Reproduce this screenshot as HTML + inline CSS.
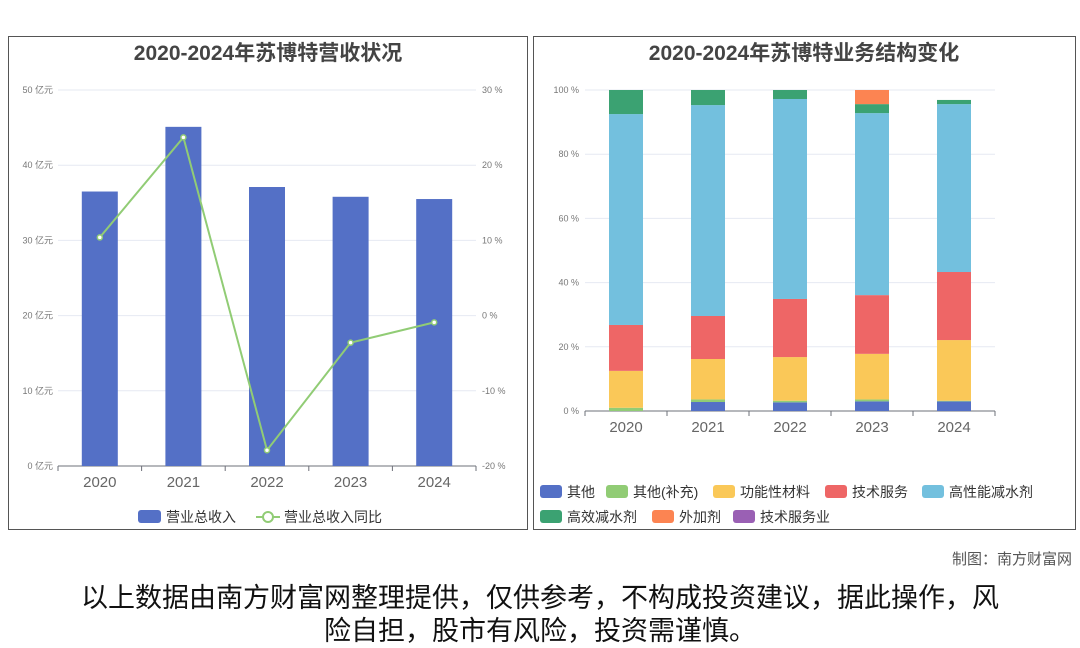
<!DOCTYPE html>
<html><head><meta charset="utf-8"><style>
body{margin:0;width:1080px;height:646px;background:#fff;overflow:hidden;font-family:"Liberation Sans","Noto Sans CJK SC",sans-serif;}
svg text{font-family:"Liberation Sans","Noto Sans CJK SC",sans-serif;}
.foot{position:absolute;left:0;width:1080px;text-align:center;font-family:"Noto Sans CJK SC",sans-serif;color:#111;font-size:27px;}
</style></head><body>
<svg id="svg" width="1080" height="560" style="position:absolute;left:0;top:0">
<rect x="8.5" y="36.5" width="519" height="493" fill="none" stroke="#555"/>
<rect x="533.5" y="36.5" width="542" height="493" fill="none" stroke="#555"/>
<text x="268" y="60" text-anchor="middle" font-size="21" font-weight="bold" fill="#444">2020-2024年苏博特营收状况</text>
<text x="804" y="60" text-anchor="middle" font-size="21" font-weight="bold" fill="#444">2020-2024年苏博特业务结构变化</text>
<g id="left"></g><g id="right"></g>
</svg>
<div class="foot" style="top:548px;text-align:right;width:1072px;font-size:15px;color:#555">制图：南方财富网</div>
<div class="foot" style="top:579px;line-height:33px">以上数据由南方财富网整理提供，仅供参考，不构成投资建议，据此操作，风<br>险自担，股市有风险，投资需谨慎。</div>
<script>
const years=['2020','2021','2022','2023','2024'];
const revenue=[36.5,45.1,37.1,35.8,35.5];
const yoy=[10.4,23.7,-17.9,-3.6,-0.9];
const leftTicks=[0,10,20,30,40,50];
const rightTicks=[-20,-10,0,10,20,30];
const segNames=['其他','其他(补充)','功能性材料','技术服务','高性能减水剂','高效减水剂','外加剂','技术服务业'];
const segColors=['#5470c6','#91cc75','#fac858','#ee6666','#73c0de','#3ba272','#fc8452','#9a60b4'];
const sOther=[0,2.8,2.7,3,3];
const sOtherSup=[1,0.8,0.5,0.6,0.2];
const sFunc=[11.5,12.6,13.6,14.2,18.9];
const sTech=[14.3,13.4,18.1,18.3,21.2];
const sHigh=[65.7,65.7,62.3,56.7,52.3];
const sEff=[7.5,4.7,2.8,2.8,1.3];
const sAdd=[0,0,0,4.4,0];
const sTechInd=[0,0,0,0,0];
const pctTicks=[0,20,40,60,80,100];
const NS='http://www.w3.org/2000/svg';
function mk(p,t,a){const e=document.createElementNS(NS,t);for(const k in a)e.setAttribute(k,a[k]);p.appendChild(e);return e;}
// left chart
const L=document.getElementById('left');
const lx0=58,lx1=476,ly0=466,ly1=90;
const lbw=(lx1-lx0)/years.length;
const ly=v=>ly0-(v/50)*(ly0-ly1);
const ry=v=>ly0-((v+20)/50)*(ly0-ly1);
const lxc=i=>lx0+lbw*(i+0.5);
leftTicks.forEach((t,i)=>{
 const g=mk(L,'line',{x1:lx0,x2:lx1,y1:ly(t),y2:ly(t),stroke:t===0?'#6e7079':'#e6e9f2'});
 
 
 const tx=mk(L,'text',{x:53,y:ly(t)+3,'text-anchor':'end','font-size':9,fill:'#777'});tx.textContent=t+' 亿元';
 
 
});
rightTicks.forEach(t=>{
 const tx=mk(L,'text',{x:482,y:ry(t)+3,'font-size':9,fill:'#777'});tx.textContent=t+' %';
 
 
});
revenue.forEach((v,i)=>{
 const r=mk(L,'rect',{x:lxc(i)-18,y:ly(v),width:36,height:ly0-ly(v),fill:'#5470c6'});
 
 
});
for(let i=0;i<=years.length;i++){mk(L,'line',{x1:lx0+lbw*i,x2:lx0+lbw*i,y1:ly0,y2:ly0+5,stroke:'#6e7079'});}
years.forEach((y,i)=>{const t=mk(L,'text',{x:lxc(i),y:487,'text-anchor':'middle','font-size':15,fill:'#666'});t.textContent=y;
 
 });
const pl=mk(L,'polyline',{points:yoy.map((v,i)=>lxc(i)+','+ry(v)).join(' '),fill:'none',stroke:'#91cc75','stroke-width':2});


yoy.forEach((v,i)=>{const c=mk(L,'circle',{cx:lxc(i),cy:ry(v),r:2.5,fill:'#fff',stroke:'#91cc75','stroke-width':1.5});
 
 });
// left legend
let lg=mk(L,'rect',{x:138,y:510,width:23,height:13,rx:3,fill:'#5470c6'});


let lt=mk(L,'text',{x:166,y:522,'font-size':14,fill:'#333'});lt.textContent='营业总收入';
mk(L,'line',{x1:256,x2:280,y1:517,y2:517,stroke:'#91cc75','stroke-width':2});
lg=mk(L,'circle',{cx:268,cy:517,r:5,fill:'#fff',stroke:'#91cc75','stroke-width':2});


lt=mk(L,'text',{x:284,y:522,'font-size':14,fill:'#333'});lt.textContent='营业总收入同比';
// right chart
const R=document.getElementById('right');
const rx0=585,rx1=995,py0=411,py1=90;
const rbw=(rx1-rx0)/years.length;
const py=v=>py0-(v/100)*(py0-py1);
const rxc=i=>rx0+rbw*(i+0.5);
pctTicks.forEach(t=>{
 const g=mk(R,'line',{x1:rx0,x2:rx1,y1:py(t),y2:py(t),stroke:t===0?'#6e7079':'#e6e9f2'});
 
 
 const tx=mk(R,'text',{x:579,y:py(t)+3,'text-anchor':'end','font-size':9,fill:'#777'});tx.textContent=t+' %';
 
 
});
const series=[sOther,sOtherSup,sFunc,sTech,sHigh,sEff,sAdd,sTechInd];
years.forEach((y,i)=>{
 let acc=0;
 series.forEach((s,k)=>{
  const v=s[i];if(!v)return;
  const r=mk(R,'rect',{x:rxc(i)-17,y:py(acc+v),width:34,height:py(acc)-py(acc+v),fill:segColors[k]});
  
  
  acc+=v;
 });
});
for(let i=0;i<=years.length;i++){mk(R,'line',{x1:rx0+rbw*i,x2:rx0+rbw*i,y1:py0,y2:py0+5,stroke:'#6e7079'});}
years.forEach((y,i)=>{const t=mk(R,'text',{x:rxc(i),y:432,'text-anchor':'middle','font-size':15,fill:'#666'});t.textContent=y;
 
 });
// right legend
const legPos=[[540,492],[606,492],[713,492],[825,492],[922,492],[540,517],[652,517],[733,517]];
segNames.forEach((n,k)=>{
 const [x,y]=legPos[k];
 const r=mk(R,'rect',{x:x,y:y-7,width:22,height:13,rx:3,fill:segColors[k]});
 
 
 const t=mk(R,'text',{x:x+27,y:y+5,'font-size':14,fill:'#333'});t.textContent=n;
});
</script>
</body></html>
